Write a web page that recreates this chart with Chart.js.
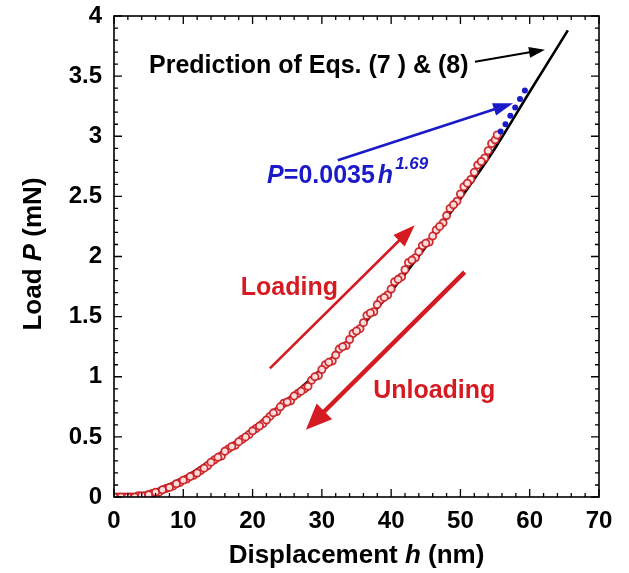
<!DOCTYPE html>
<html><head><meta charset="utf-8">
<script src="https://cdn.jsdelivr.net/npm/chart.js@4/dist/chart.umd.min.js"></script>
<style>html,body{margin:0;padding:0;background:#fff;}</style>
</head><body>
<canvas id="c" width="629" height="573"></canvas>
<script>
// ---- data ----
const xTickValues = [0,10,20,30,40,50,60,70];
const xTickLabels = ['0','10','20','30','40','50','60','70'];
const yTickValues = [0,0.5,1,1.5,2,2.5,3,3.5,4];
const yTickLabels = ['0','0.5','1','1.5','2','2.5','3','3.5','4'];

const loadingH = [0,1,2,3,4,5,6,7,8,9,10,11,12,13,14,15,16,17,18,19,20,21,22,23,24,25,26,27,28,29,30,31,32,33,34,35,36,37,38,39,40,41,42,43,44,45,46,47,48,49,50,51,52,53,54,55,55.3];
const loadingP = [0.00,0.00,0.00,0.00,0.01,0.02,0.04,0.06,0.08,0.11,0.14,0.17,0.20,0.24,0.29,0.33,0.38,0.42,0.46,0.50,0.55,0.59,0.64,0.70,0.75,0.79,0.84,0.88,0.92,1.00,1.06,1.12,1.18,1.25,1.31,1.38,1.45,1.53,1.60,1.66,1.73,1.81,1.89,1.97,2.04,2.11,2.17,2.25,2.34,2.43,2.52,2.61,2.70,2.79,2.88,2.97,3.01];

const unloadingH = [0.5,1.5,2.5,3.5,4.5,5.5,6.5,7.5,8.5,9.5,10.5,11.5,12.5,13.5,14.5,15.5,16.5,17.5,18.5,19.5,20.5,21.5,22.5,23.5,24.5,25.5,26.5,27.5,28.5,29.5,30.5,31.5,32.5,33.5,34.5,35.5,36.5,37.5,38.5,39.5,40.5,41.5,42.5,43.5,44.5,45.5,46.5,47.5,48.5,49.5,50.5,51.5,52.5,53.5,54.5];
const unloadingP = [0.00,0.00,0.00,0.01,0.01,0.03,0.04,0.07,0.09,0.12,0.15,0.18,0.22,0.26,0.31,0.34,0.40,0.43,0.48,0.52,0.57,0.61,0.67,0.71,0.78,0.80,0.86,0.90,0.97,1.01,1.10,1.13,1.23,1.26,1.36,1.40,1.51,1.54,1.64,1.68,1.79,1.83,1.95,1.99,2.09,2.12,2.22,2.28,2.40,2.46,2.58,2.64,2.76,2.82,2.94];

const predictionH = [0,5,10,15,20,25,30,35,40,45,50,55,60,65.5];
const predictionP = [0,0.04,0.16,0.35,0.57,0.81,1.07,1.37,1.71,2.08,2.48,2.90,3.37,3.88];

const fitH = [55.8,56.5,57.2,57.9,58.6,59.3];
const fitP = [3.04,3.10,3.17,3.24,3.31,3.38];

// ---- styling ----
const FONT = '"Liberation Sans", Arial, Helvetica, sans-serif';
const RED = '#d61a22';
const BLUE = '#1a1ac8';

const toXY = (xs, ys) => xs.map((x, i) => ({x: x, y: ys[i]}));

// annotation anchors in data units
const notes = {
  predText: {x: 5.05, y: 3.53},
  predArrow: [{x: 52.1, y: 3.62}, {x: 62.2, y: 3.72}],
  fitText: {x: 22.1, y: 2.61},
  fitArrow: [{x: 32.3, y: 2.80}, {x: 57.6, y: 3.275}],
  loadText: {x: 18.3, y: 1.68},
  loadArrow: [{x: 22.5, y: 1.07}, {x: 43.4, y: 2.26}],
  unloadText: {x: 37.4, y: 0.82},
  unloadArrow: [{x: 50.6, y: 1.87}, {x: 27.7, y: 0.56}]
};

function arrow(ctx, x1, y1, x2, y2, color, lw, headLen, headW) {
  const ang = Math.atan2(y2 - y1, x2 - x1);
  const bx = x2 - headLen * Math.cos(ang), by = y2 - headLen * Math.sin(ang);
  ctx.save();
  ctx.strokeStyle = color; ctx.fillStyle = color; ctx.lineWidth = lw; ctx.lineCap = 'butt';
  ctx.beginPath(); ctx.moveTo(x1, y1); ctx.lineTo(bx + 2 * Math.cos(ang), by + 2 * Math.sin(ang)); ctx.stroke();
  ctx.beginPath();
  ctx.moveTo(x2, y2);
  ctx.lineTo(bx + headW / 2 * Math.sin(ang), by - headW / 2 * Math.cos(ang));
  ctx.lineTo(bx - headW / 2 * Math.sin(ang), by + headW / 2 * Math.cos(ang));
  ctx.closePath(); ctx.fill();
  ctx.restore();
}

// draws a run of [text, italic] pieces starting at x
function runText(ctx, parts, size, x, y) {
  let cx = x;
  parts.forEach(([s, it]) => {
    ctx.font = (it ? 'italic ' : '') + 'bold ' + size + 'px ' + FONT;
    ctx.fillText(s, cx, y);
    cx += ctx.measureText(s).width;
  });
  return cx - x;
}
function runWidth(ctx, parts, size) {
  let w = 0;
  parts.forEach(([s, it]) => {
    ctx.font = (it ? 'italic ' : '') + 'bold ' + size + 'px ' + FONT;
    w += ctx.measureText(s).width;
  });
  return w;
}

const framePlugin = {
  id: 'frame',
  afterDatasetsDraw(chart) {
    const {ctx, chartArea: a, scales: {x, y}} = chart;
    ctx.save();
    ctx.strokeStyle = '#000';
    ctx.lineWidth = 1.6;
    ctx.strokeRect(a.left, a.top, a.right - a.left, a.bottom - a.top);
    ctx.lineWidth = 1.3;
    ctx.beginPath();
    for (let k = 0; k <= 35; k++) {
      const v = k * 2;
      const px = x.getPixelForValue(v);
      const len = (k % 5 === 0) ? 8 : 4;
      ctx.moveTo(px, a.bottom); ctx.lineTo(px, a.bottom - len);
      ctx.moveTo(px, a.top); ctx.lineTo(px, a.top + len);
    }
    for (let k = 0; k <= 40; k++) {
      const v = k * 0.1;
      const py = y.getPixelForValue(v);
      const len = (k % 5 === 0) ? 8 : 4;
      ctx.moveTo(a.left, py); ctx.lineTo(a.left + len, py);
      ctx.moveTo(a.right, py); ctx.lineTo(a.right - len, py);
    }
    ctx.stroke();

    ctx.textBaseline = 'alphabetic';
    ctx.textAlign = 'left';
    ctx.fillStyle = '#000';

    // axis titles (with italic symbols)
    const xt = [['Displacement ', false], ['h', true], [' (nm)', false]];
    const xw = runWidth(ctx, xt, 26);
    runText(ctx, xt, 26, (a.left + a.right) / 2 - xw / 2, 563);
    const yt = [['Load ', false], ['P', true], [' (mN)', false]];
    const yw = runWidth(ctx, yt, 26);
    ctx.save();
    ctx.translate(41, 254);
    ctx.rotate(-Math.PI / 2);
    runText(ctx, yt, 26, -yw / 2, 0);
    ctx.restore();

    const P = p => ({px: x.getPixelForValue(p.x), py: y.getPixelForValue(p.y)});

    // Prediction label + arrow
    let t = P(notes.predText);
    ctx.fillStyle = '#000';
    runText(ctx, [['Prediction of Eqs. (7 ) & (8)', false]], 25, t.px, t.py);
    let a1 = P(notes.predArrow[0]), a2 = P(notes.predArrow[1]);
    arrow(ctx, a1.px, a1.py, a2.px, a2.py, '#000', 2, 16, 11);

    // Fit label
    t = P(notes.fitText);
    ctx.fillStyle = BLUE;
    let w = runText(ctx, [['P', true], ['=0.0035', false]], 25, t.px, t.py);
    w += 3;
    w += runText(ctx, [['h', true]], 25, t.px + w, t.py) + 2;
    runText(ctx, [['1.69', true]], 17, t.px + w, t.py - 14);
    a1 = P(notes.fitArrow[0]); a2 = P(notes.fitArrow[1]);
    arrow(ctx, a1.px, a1.py, a2.px, a2.py, BLUE, 2.6, 20, 13);

    // Loading
    t = P(notes.loadText);
    ctx.fillStyle = RED;
    runText(ctx, [['Loading', false]], 25, t.px, t.py);
    a1 = P(notes.loadArrow[0]); a2 = P(notes.loadArrow[1]);
    arrow(ctx, a1.px, a1.py, a2.px, a2.py, RED, 2.6, 22, 16);

    // Unloading
    t = P(notes.unloadText);
    runText(ctx, [['Unloading', false]], 25, t.px, t.py);
    a1 = P(notes.unloadArrow[0]); a2 = P(notes.unloadArrow[1]);
    arrow(ctx, a1.px, a1.py, a2.px, a2.py, RED, 4.5, 26, 22);
    ctx.restore();
  }
};

new Chart(document.getElementById('c'), {
  type: 'scatter',
  data: {
    datasets: [
      {label: 'Loading', data: toXY(loadingH, loadingP), order: 1, pointRadius: 3.6, borderWidth: 1.8,
       borderColor: 'rgba(200,25,30,0.9)', backgroundColor: 'rgba(255,228,228,0.95)', showLine: false},
      {label: 'Unloading', data: toXY(unloadingH, unloadingP), order: 2, pointRadius: 3.6, borderWidth: 1.8,
       borderColor: 'rgba(200,25,30,0.9)', backgroundColor: 'rgba(255,228,228,0.95)', showLine: false},
      {label: 'Fit', data: toXY(fitH, fitP), order: 0, pointRadius: 3, pointStyle: 'circle',
       borderColor: BLUE, backgroundColor: BLUE, borderWidth: 0, showLine: false},
      {label: 'Prediction', data: toXY(predictionH, predictionP), order: 5, showLine: true,
       borderColor: '#000', borderWidth: 2.6, pointRadius: 0, tension: 0.4, cubicInterpolationMode: 'monotone'}
    ]
  },
  options: {
    responsive: false,
    animation: false,
    layout: {padding: {top: 16, right: 30, left: 0, bottom: 0}},
    plugins: {legend: {display: false}, tooltip: {enabled: false}},
    elements: {point: {hitRadius: 0}},
    scales: {
      x: {
        type: 'linear', min: 0, max: 70,
        afterBuildTicks: s => { s.ticks = xTickValues.map(v => ({value: v})); },
        afterFit: s => { s.height = 76; s.paddingLeft = 0; s.paddingRight = 0; },
        grid: {display: false, drawTicks: false},
        border: {display: false},
        ticks: {color: '#000', font: {family: FONT, size: 24, weight: 'bold'}, padding: 10,
                maxRotation: 0, autoSkip: false,
                callback: (v) => xTickLabels[xTickValues.indexOf(v)]},
        title: {display: false}
      },
      y: {
        type: 'linear', min: 0, max: 4,
        afterBuildTicks: s => { s.ticks = yTickValues.map(v => ({value: v})); },
        afterFit: s => { s.width = 114; s.paddingTop = 0; s.paddingBottom = 0; },
        grid: {display: false, drawTicks: false},
        border: {display: false},
        ticks: {color: '#000', font: {family: FONT, size: 24, weight: 'bold'}, padding: 12,
                autoSkip: false,
                callback: (v) => yTickLabels[yTickValues.indexOf(v)]},
        title: {display: false}
      }
    }
  },
  plugins: [framePlugin]
});
</script>
</body></html>
